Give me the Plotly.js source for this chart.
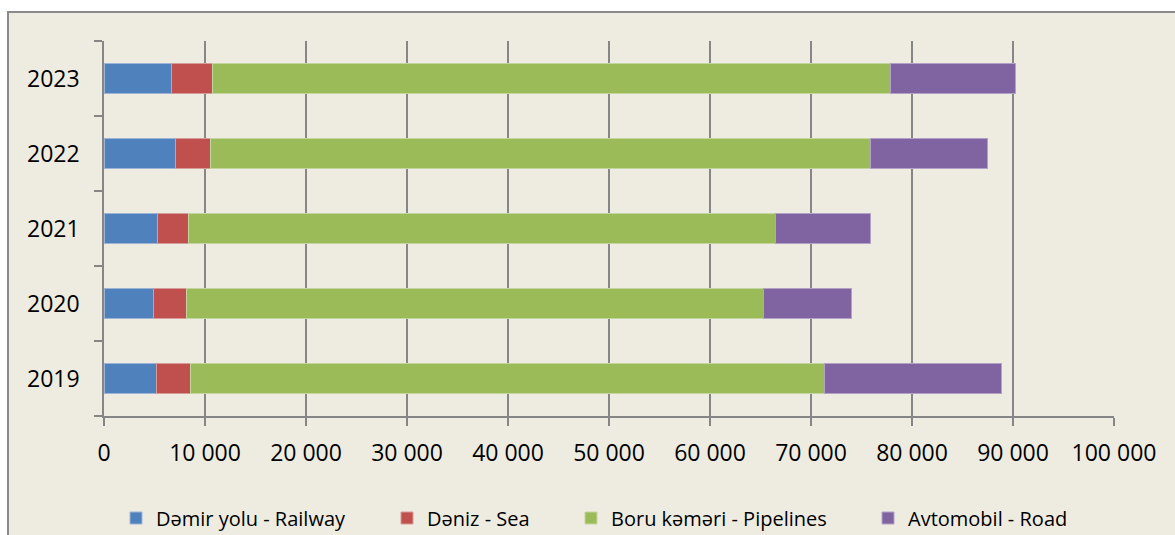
<!DOCTYPE html>
<html>
<head>
<meta charset="utf-8">
<script src="https://cdn.plot.ly/plotly-3.0.1.min.js"></script>
<style>
  html, body { margin: 0; padding: 0; background: #ffffff; width: 1175px; height: 535px; overflow: hidden; }
  #chart { position: absolute; left: 7px; top: 11px; width: 1166px; height: 522px;
           border-left: 2px solid #8a8a8a; border-top: 2px solid #8a8a8a; background: #EEECE1; }
</style>
</head>
<body>
<div id="chart"></div>
<script>
const years = ['2019', '2020', '2021', '2022', '2023'];
const railway   = [5150, 4880, 5310, 7060, 6730];
const sea       = [3370, 3240, 3100, 3440, 4060];
const pipelines = [62780, 57130, 58050, 65410, 67100];
const road      = [17590, 8780, 9400, 11580, 12400];

const seriesNames  = ['Dəmir yolu - Railway', 'Dəniz - Sea', 'Boru kəməri - Pipelines', 'Avtomobil - Road'];
const seriesValues = [railway, sea, pipelines, road];
const seriesColors = ['#4F81BD', '#C0504D', '#9BBB59', '#8064A2'];
const lineColors   = ['#9DB4D6', '#D79C9A', '#C4D6A0', '#B3A2C7'];
const legendIds    = ['legend', 'legend2', 'legend3', 'legend4'];

const traces = seriesNames.map((name, i) => ({
  type: 'bar',
  orientation: 'h',
  name: name,
  y: years,
  x: seriesValues[i],
  marker: { color: seriesColors[i], line: { color: lineColors[i], width: 1 } },
  legend: legendIds[i],
  hoverinfo: 'x+name'
}));

const legendFont = { family: 'Open Sans, sans-serif', size: 20, color: '#000000' };
function mkLegend(px) {
  return {
    orientation: 'h', x: (px - 104) / 1010, xanchor: 'left',
    y: (416 - 518) / 375, yanchor: 'middle',
    bgcolor: 'rgba(0,0,0,0)', borderwidth: 0, font: legendFont
  };
}

const layout = {
  width: 1166, height: 522,
  margin: { l: 95, r: 61, t: 28, b: 119, pad: 0, autoexpand: false },
  paper_bgcolor: '#EEECE1',
  plot_bgcolor: '#EEECE1',
  barmode: 'stack',
  bargap: 0.6,
  separators: ', ',
  showlegend: true,
  xaxis: {
    range: [0, 100000], dtick: 10000, tick0: 0,
    tickformat: ',d',
    showgrid: true, gridcolor: '#868686', gridwidth: 1.5,
    zeroline: false,
    showline: true, linecolor: '#868686', linewidth: 1.5,
    ticks: 'outside', ticklen: 8, tickcolor: '#868686', tickwidth: 1.5,
    ticklabelstandoff: 8,
    tickfont: { family: 'Open Sans, sans-serif', size: 23, color: '#000000' },
    fixedrange: true
  },
  yaxis: {
    type: 'category', categoryorder: 'array', categoryarray: years,
    showgrid: false, zeroline: false,
    showline: true, linecolor: '#868686', linewidth: 1.5,
    ticks: 'outside', tickson: 'boundaries', ticklen: 8, tickcolor: '#868686', tickwidth: 1.5,
    ticklabelstandoff: 18,
    tickfont: { family: 'Open Sans, sans-serif', size: 23, color: '#000000' },
    fixedrange: true
  },
  legend:  mkLegend(134 - 18),
  legend2: mkLegend(405 - 18),
  legend3: mkLegend(589 - 18),
  legend4: mkLegend(886 - 18)
};

Plotly.newPlot('chart', traces, layout, { displayModeBar: false });
</script>
</body>
</html>
